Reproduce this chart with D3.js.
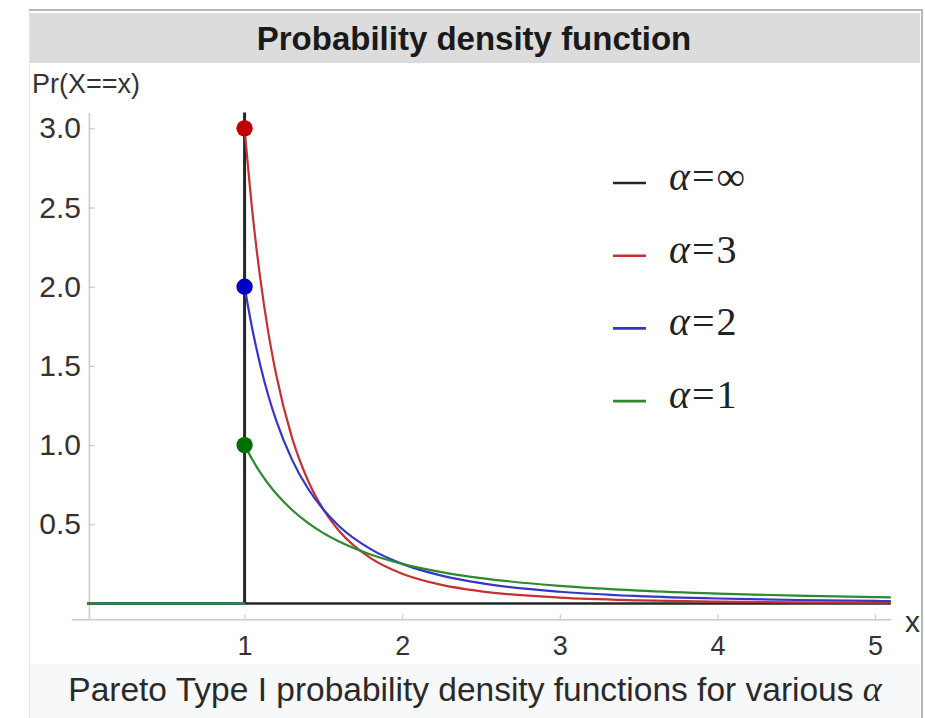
<!DOCTYPE html>
<html><head><meta charset="utf-8">
<script src="https://cdn.jsdelivr.net/npm/d3@7"></script>
<style>html,body{margin:0;padding:0;background:#fff;}svg{display:block;}</style>
</head><body>
<script>
// ---- data ----
const xs     = [1, 1.05, 1.1, 1.15, 1.2, 1.3, 1.4, 1.5, 1.6, 1.8, 2, 2.25, 2.5, 3, 3.5, 4, 4.5, 5, 5.1];
const alpha3 = [3, 2.468, 2.049, 1.715, 1.447, 1.050, 0.781, 0.593, 0.458, 0.286, 0.1875, 0.117, 0.0768, 0.037, 0.020, 0.0117, 0.0073, 0.0048, 0.0044];
const alpha2 = [2, 1.728, 1.503, 1.315, 1.157, 0.910, 0.729, 0.593, 0.488, 0.343, 0.25, 0.1756, 0.128, 0.0741, 0.0466, 0.03125, 0.0219, 0.016, 0.0151];
const alpha1 = [1, 0.907, 0.826, 0.756, 0.694, 0.592, 0.510, 0.444, 0.391, 0.309, 0.25, 0.198, 0.16, 0.111, 0.0816, 0.0625, 0.0494, 0.04, 0.0384];
const zeroX  = [0, 1];
const spikeX = 1;
const xTicks = [1, 2, 3, 4, 5];
const yTicks = [0.5, 1.0, 1.5, 2.0, 2.5, 3.0];
const legendLabels = ["∞", "3", "2", "1"];
const titleText = "Probability density function";
const captionText = "Pareto Type I probability density functions for various ";
const yLabel = "Pr(X==x)";
const xLabel = "x";

const W = 925, H = 718;
const svg = d3.select("body").append("svg").attr("width", W).attr("height", H);

// frame
svg.append("rect").attr("x", 29.5).attr("y", 10).attr("width", 892).attr("height", 720)
  .attr("fill", "#fff").attr("stroke", "#e6e6e6").attr("stroke-width", 1);
svg.append("line").attr("x1", 29).attr("x2", 923).attr("y1", 10).attr("y2", 10)
  .attr("stroke", "#b3b9bf").attr("stroke-width", 2);
svg.append("line").attr("x1", 922).attr("x2", 922).attr("y1", 9).attr("y2", H)
  .attr("stroke", "#b3b9bf").attr("stroke-width", 2);
// title band
svg.append("rect").attr("x", 30).attr("y", 13).attr("width", 890).attr("height", 50).attr("fill", "#dcdcdc");
svg.append("text").attr("x", 474).attr("y", 50).attr("text-anchor", "middle")
  .attr("font-family", "Liberation Sans, Arial, sans-serif").attr("font-weight", "bold")
  .attr("font-size", 33).attr("fill", "#1a1a1a").text(titleText);
// caption band
svg.append("rect").attr("x", 30).attr("y", 664).attr("width", 890).attr("height", 54).attr("fill", "#f7f8fa");
const cap = svg.append("text").attr("x", 475).attr("y", 701).attr("text-anchor", "middle")
  .attr("font-family", "Liberation Sans, Arial, sans-serif").attr("font-size", 33.5).attr("fill", "#2a2a2a");
cap.append("tspan").text(captionText);
cap.append("tspan").attr("font-family", "Liberation Serif, Times New Roman, serif").attr("font-style", "italic").attr("font-size", 36).text("α");

// scales
const x = d3.scaleLinear().domain([-0.1, 5.1]).range([71.2, 890.8]);
const y = d3.scaleLinear().domain([-0.1, 3.1]).range([619.3, 112.5]);

const axisColor = "#cccccc";
// x axis
const gx = svg.append("g").attr("transform", `translate(0,${y(-0.1)})`)
  .call(d3.axisBottom(x).tickValues(xTicks).tickFormat(d3.format("d")).tickSizeInner(-5).tickSizeOuter(0).tickPadding(17));
gx.select(".domain").attr("stroke", axisColor).attr("stroke-width", 1.6);
gx.selectAll(".tick line").attr("stroke", axisColor).attr("stroke-width", 1.2);
gx.selectAll(".tick text").attr("font-family", "Liberation Sans, Arial, sans-serif").attr("font-size", 27).attr("fill", "#333");

// y axis
const gy = svg.append("g").attr("transform", `translate(${x(0.0125)},0)`)
  .call(d3.axisLeft(y).tickValues(yTicks).tickFormat(d3.format(".1f")).tickSizeInner(-6).tickSizeOuter(0).tickPadding(8));
gy.select(".domain").attr("stroke", axisColor).attr("stroke-width", 1.6);
gy.selectAll(".tick line").attr("stroke", axisColor).attr("stroke-width", 1.2);
gy.selectAll(".tick text").attr("font-family", "Liberation Sans, Arial, sans-serif").attr("font-size", 30).attr("fill", "#333");

// axis labels
svg.append("text").attr("x", 32).attr("y", 93).attr("font-family", "Liberation Sans, Arial, sans-serif")
  .attr("font-size", 27).attr("fill", "#333").text(yLabel);
svg.append("text").attr("x", 905).attr("y", 632).attr("font-family", "Liberation Sans, Arial, sans-serif")
  .attr("font-size", 30).attr("fill", "#333").text(xLabel);

// series
const series = [
  { name: "∞", color: "#262626", vals: null },
  { name: "3", color: "#c73030", dot: "#c00000", vals: alpha3 },
  { name: "2", color: "#3535cc", dot: "#0000c4", vals: alpha2 },
  { name: "1", color: "#2d8a2d", dot: "#007000", vals: alpha1 }
];
const line = d3.line().x(d => x(d[0])).y(d => y(d[1])).curve(d3.curveMonotoneX);
const plain = d3.line().x(d => x(d[0])).y(d => y(d[1]));

// alpha = infinity: spike at x=1 and zero elsewhere
svg.append("path").attr("d", plain([[spikeX, 0], [xs[xs.length - 1], 0]]))
  .attr("fill", "none").attr("stroke", series[0].color).attr("stroke-width", 2.6);
svg.append("path").attr("d", plain([[spikeX, 0], [spikeX, 3.1]]))
  .attr("fill", "none").attr("stroke", series[0].color).attr("stroke-width", 3);

series.slice(1).forEach(s => {
  svg.append("path").attr("d", plain(zeroX.map(v => [v, 0])))
    .attr("fill", "none").attr("stroke", s.color).attr("stroke-width", 2.4);
  svg.append("path").attr("d", line(xs.map((v, i) => [v, s.vals[i]])))
    .attr("fill", "none").attr("stroke", s.color).attr("stroke-width", 2.2);
});
series.slice(1).forEach(s => {
  svg.append("circle").attr("cx", x(xs[0])).attr("cy", y(s.vals[0])).attr("r", 8.2).attr("fill", s.dot);
});

// legend
const lg = svg.append("g");
series.forEach((s, i) => {
  const by = 190 + i * 72.7;
  lg.append("line").attr("x1", 613).attr("x2", 646).attr("y1", by - 7).attr("y2", by - 7)
    .attr("stroke", s.color).attr("stroke-width", 2.6);
  const t = lg.append("text").attr("x", 669).attr("y", by)
    .attr("font-family", "Liberation Serif, Times New Roman, serif").attr("font-size", 40)
    .attr("letter-spacing", 2).attr("fill", "#222");
  t.append("tspan").attr("font-style", "italic").text("α");
  t.append("tspan").text("=" + legendLabels[i]);
});
</script>
</body></html>
